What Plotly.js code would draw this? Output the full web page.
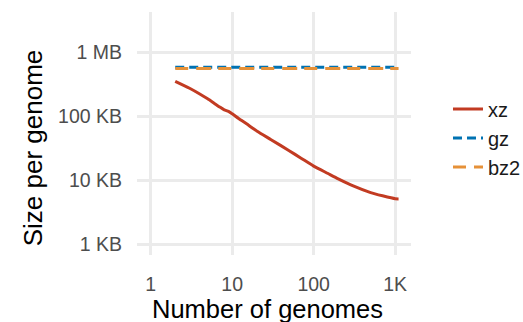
<!DOCTYPE html>
<html>
<head>
<meta charset="utf-8">
<script src="https://cdn.plot.ly/plotly-3.0.1.min.js"></script>
<style>
  html, body { margin: 0; padding: 0; background: #ffffff; }
  #chart { width: 523px; height: 322px; }
</style>
</head>
<body>
<div id="chart"></div>
<script>
// Number of genomes in the archive
const genomes = [2, 3, 4, 5, 6, 7, 8, 9, 10, 12, 15, 20, 30, 50, 70, 100, 150, 200, 300, 500, 700, 1000, 1100];

// Compressed size per genome (bytes) for each compressor
const xzSize  = [352000, 274000, 223000, 187000, 160000, 140000, 126000, 119000, 109000, 92000, 76000, 59000, 43000, 28900, 22100, 16600, 12700, 10500, 8200, 6400, 5700, 5130, 5100];
const gzSize  = [582000, 582000, 582000, 582000, 582000, 582000, 582000, 582000, 582000, 582000, 582000, 582000, 582000, 582000, 582000, 582000, 582000, 582000, 582000, 582000, 582000, 582000, 582000];
const bz2Size = [558000, 558000, 558000, 558000, 558000, 558000, 558000, 558000, 558000, 558000, 558000, 558000, 558000, 558000, 558000, 558000, 558000, 558000, 558000, 558000, 558000, 558000, 558000];

// Axis ticks
const xTickVals = [1, 10, 100, 1000];
const xTickText = ['1', '10', '100', '1K'];
const yTickVals = [1e3, 1e4, 1e5, 1e6];
const yTickText = ['1 KB', '10 KB', '100 KB', '1 MB'];

const FONT = 'Liberation Sans, Arial, Helvetica, sans-serif';

const traces = [
  { x: genomes, y: xzSize, name: 'xz', mode: 'lines', type: 'scatter',
    line: { color: '#C23B22', width: 3, dash: 'solid', shape: 'spline', smoothing: 0.6 } },
  { x: genomes, y: gzSize, name: 'gz', mode: 'lines', type: 'scatter',
    line: { color: '#0072B2', width: 3, dash: '9px,5px' } },
  { x: genomes, y: bz2Size, name: 'bz2', mode: 'lines', type: 'scatter',
    line: { color: '#E69138', width: 3, dash: '13px,8px,15px,7px' } }
];

const layout = {
  width: 523, height: 322,
  margin: { l: 137, r: 112, t: 12, b: 67, pad: 0, autoexpand: false },
  paper_bgcolor: '#ffffff', plot_bgcolor: '#ffffff',
  font: { family: FONT, color: '#000000' },
  showlegend: true,
  xaxis: {
    type: 'log', range: [-0.168, 3.194],
    tickvals: xTickVals, ticktext: xTickText,
    showgrid: true, gridcolor: '#EBEBEB', gridwidth: 2.8,
    zeroline: false, showline: false, ticks: '',
    ticklabelstandoff: 15,
    tickfont: { family: FONT, size: 19.5, color: '#4D4D4D' },
    automargin: false, fixedrange: true
  },
  yaxis: {
    type: 'log', range: [2.83, 6.63],
    tickvals: yTickVals, ticktext: yTickText,
    showgrid: true, gridcolor: '#EBEBEB', gridwidth: 2.8,
    zeroline: false, showline: false, ticks: '',
    ticklabelstandoff: 14,
    tickfont: { family: FONT, size: 19.5, color: '#4D4D4D' },
    automargin: false, fixedrange: true
  },
  legend: {
    x: 1.135, xanchor: 'left', y: (255 - 138) / 243, yanchor: 'middle',
    bgcolor: 'rgba(0,0,0,0)', borderwidth: 0,
    font: { family: FONT, size: 20, color: '#1A1A1A' },
    tracegroupgap: 0
  },
  annotations: [
    { text: 'Number of genomes', xref: 'paper', yref: 'paper',
      x: (267 - 137) / 274, y: -(324 - 255) / 243, xanchor: 'center', yanchor: 'bottom',
      showarrow: false, borderpad: 0, font: { family: FONT, size: 25.5, color: '#000000' } },
    { text: 'Size per genome', xref: 'paper', yref: 'paper',
      x: -(137 - 16) / 274, y: (255 - 148.3) / 243, xanchor: 'left', yanchor: 'middle',
      textangle: -90, showarrow: false,
      font: { family: FONT, size: 26, color: '#000000' } }
  ]
};

Plotly.newPlot('chart', traces, layout, { displayModeBar: false, staticPlot: true });
</script>
</body>
</html>
